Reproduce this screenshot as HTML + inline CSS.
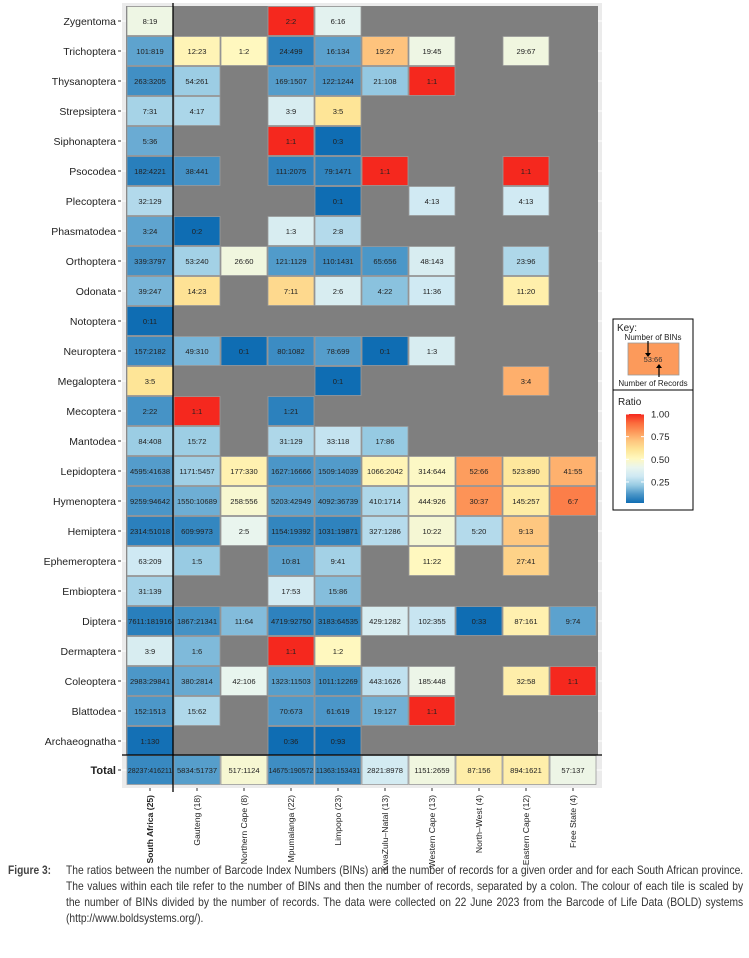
<!DOCTYPE html>
<html><head><meta charset="utf-8"><style>
body{margin:0;background:#fff;width:749px;height:958px;overflow:hidden;font-family:"Liberation Sans",sans-serif}
#cap{position:absolute;left:8px;top:862px;width:737px;font-size:12px;line-height:16px;color:#333}
#cap b{position:absolute;left:0;top:0;font-weight:bold;color:#444;transform:scaleX(0.85);transform-origin:0 0;white-space:nowrap}
#cap .ln{margin-left:58px;width:792px;transform:scaleX(0.855);transform-origin:0 0;white-space:nowrap;text-align:justify;text-align-last:justify;height:16px}
#cap .ln.last{text-align-last:left}
</style></head><body>
<svg id="chart" width="749" height="958" style="position:absolute;left:0;top:0" font-family="Liberation Sans, sans-serif"></svg>
<div id="cap"><b>Figure 3:</b>
<div class="ln">The ratios between the number of Barcode Index Numbers (BINs) and the number of records for a given order and for each South African province.</div>
<div class="ln">The values within each tile refer to the number of BINs and then the number of records, separated by a colon. The colour of each tile is scaled by</div>
<div class="ln">the number of BINs divided by the number of records. The data were collected on 22 June 2023 from the Barcode of Life Data (BOLD) systems</div>
<div class="ln last">(http://www.boldsystems.org/).</div></div>
<script>
const regions=["South Africa (25)","Gauteng (18)","Northern Cape (8)","Mpumalanga (22)","Limpopo (23)","KwaZulu\u2013Natal (13)","Western Cape (13)","North\u2013West (4)","Eastern Cape (12)","Free State (4)"];
const orders=["Zygentoma","Trichoptera","Thysanoptera","Strepsiptera","Siphonaptera","Psocodea","Plecoptera","Phasmatodea","Orthoptera","Odonata","Notoptera","Neuroptera","Megaloptera","Mecoptera","Mantodea","Lepidoptera","Hymenoptera","Hemiptera","Ephemeroptera","Embioptera","Diptera","Dermaptera","Coleoptera","Blattodea","Archaeognatha","Total"];
const cells=[
["8:19",null,null,"2:2","6:16",null,null,null,null,null],
["101:819","12:23","1:2","24:499","16:134","19:27","19:45",null,"29:67",null],
["263:3205","54:261",null,"169:1507","122:1244","21:108","1:1",null,null,null],
["7:31","4:17",null,"3:9","3:5",null,null,null,null,null],
["5:36",null,null,"1:1","0:3",null,null,null,null,null],
["182:4221","38:441",null,"111:2075","79:1471","1:1",null,null,"1:1",null],
["32:129",null,null,null,"0:1",null,"4:13",null,"4:13",null],
["3:24","0:2",null,"1:3","2:8",null,null,null,null,null],
["339:3797","53:240","26:60","121:1129","110:1431","65:656","48:143",null,"23:96",null],
["39:247","14:23",null,"7:11","2:6","4:22","11:36",null,"11:20",null],
["0:11",null,null,null,null,null,null,null,null,null],
["157:2182","49:310","0:1","80:1082","78:699","0:1","1:3",null,null,null],
["3:5",null,null,null,"0:1",null,null,null,"3:4",null],
["2:22","1:1",null,"1:21",null,null,null,null,null,null],
["84:408","15:72",null,"31:129","33:118","17:86",null,null,null,null],
["4595:41638","1171:5457","177:330","1627:16666","1509:14039","1066:2042","314:644","52:66","523:890","41:55"],
["9259:94642","1550:10689","258:556","5203:42949","4092:36739","410:1714","444:926","30:37","145:257","6:7"],
["2314:51018","609:9973","2:5","1154:19392","1031:19871","327:1286","10:22","5:20","9:13",null],
["63:209","1:5",null,"10:81","9:41",null,"11:22",null,"27:41",null],
["31:139",null,null,"17:53","15:86",null,null,null,null,null],
["7611:181916","1867:21341","11:64","4719:92750","3183:64535","429:1282","102:355","0:33","87:161","9:74"],
["3:9","1:6",null,"1:1","1:2",null,null,null,null,null],
["2983:29841","380:2814","42:106","1323:11503","1011:12269","443:1626","185:448",null,"32:58","1:1"],
["152:1513","15:62",null,"70:673","61:619","19:127","1:1",null,null,null],
["1:130",null,null,"0:36","0:93",null,null,null,null,null],
["28237:416211","5834:51737","517:1124","14675:190572","11363:153431","2821:8978","1151:2659","87:156","894:1621","57:137"]];
const legendTicks=[0.25,0.5,0.75,1.00];
const stops=[[0,"#0f6db3"],[0.1,"#4c97c8"],[0.2,"#98cbe3"],[0.3,"#cfe9f3"],[0.4,"#e9f5ee"],[0.5,"#fff8bf"],[0.6,"#fee597"],[0.7,"#fec57e"],[0.8,"#fd985a"],[0.9,"#fb6b3c"],[1,"#f5281e"]];
function hx(c){return [1,3,5].map(i=>parseInt(c.substr(i,2),16));}
function color(r){r=Math.max(0,Math.min(1,r));for(let i=1;i<stops.length;i++){if(r<=stops[i][0]){const a=stops[i-1],b=stops[i],t=(r-a[0])/(b[0]-a[0]);const ca=hx(a[1]),cb=hx(b[1]);return "rgb("+ca.map((v,k)=>Math.round(v+(cb[k]-v)*t)).join(",")+")";}}return stops[stops.length-1][1];}
const xC=j=>150+47*j, yC=i=>i<25?21+30*i:770;
const svg=document.getElementById('chart'),NS="http://www.w3.org/2000/svg";
function el(t,a,p,txt){const e=document.createElementNS(NS,t);for(const k in a)e.setAttribute(k,a[k]);if(txt!=null)e.textContent=txt;(p||svg).appendChild(e);return e;}
let e;
e=el('rect',{x:122,y:3,width:480,height:785,fill:'#ebebeb'});


for(let i=0;i<26;i++){el('line',{x1:122,x2:602,y1:yC(i),y2:yC(i),stroke:'#fff','stroke-width':1});}
e=el('rect',{x:126,y:6,width:472,height:749,fill:'#7f7f7f'});


orders.forEach((o,i)=>{
  e=el('text',{x:116,y:yC(i)+4,'text-anchor':'end','font-size':i==25?11:10.5,'font-weight':i==25?'bold':'normal',fill:'#222'},null,o);
  
  
  el('line',{x1:118,x2:121,y1:yC(i),y2:yC(i),stroke:'#333'});
  cells[i].forEach((v,j)=>{
    if(!v)return;const p=v.split(':').map(Number);const r=p[1]?p[0]/p[1]:0;
    const g=el('g',{});
    
    
    el('rect',{x:xC(j)-23,y:yC(i)-14.5,width:46,height:29,fill:color(r),stroke:'#9a9a9a','stroke-width':0.8},g);
    el('text',{x:xC(j),y:yC(i)+3,'text-anchor':'middle','font-size':v.length>11?7:7.6,fill:'#222'},g,v);
  });
});
regions.forEach((r,j)=>{
  el('line',{x1:xC(j),x2:xC(j),y1:788,y2:791,stroke:'#333'});
  e=el('text',{transform:`translate(${xC(j)+3},795) rotate(-90)`,'text-anchor':'end','font-size':8.6,'font-weight':j==0?'bold':'normal',fill:'#222'},null,r);
  
  
});
el('line',{x1:173,x2:173,y1:3,y2:792,stroke:'#000','stroke-width':1.3});
el('line',{x1:122,x2:602,y1:755,y2:755,stroke:'#000','stroke-width':1.3});
const lg=el('g',{});


el('rect',{x:613,y:319,width:80,height:191,fill:'#fff',stroke:'#000','stroke-width':1},lg);
el('line',{x1:613,x2:693,y1:390,y2:390,stroke:'#000'},lg);
el('text',{x:617,y:331,'font-size':10,fill:'#222'},lg,'Key:');
el('text',{x:653,y:340,'text-anchor':'middle','font-size':8,fill:'#222'},lg,'Number of BINs');
el('rect',{x:628,y:343,width:51,height:32,fill:'#fc9a5b',stroke:'#999','stroke-width':0.8},lg);
el('text',{x:653,y:362,'text-anchor':'middle','font-size':7.5,fill:'#333'},lg,'53:66');
el('line',{x1:648,x2:648,y1:341,y2:356,stroke:'#000','stroke-width':1.2},lg);
el('path',{d:'M645,353 L648,357 L651,353Z',fill:'#000'},lg);
el('line',{x1:659,x2:659,y1:377,y2:365,stroke:'#000','stroke-width':1.2},lg);
el('path',{d:'M656,368 L659,364 L662,368Z',fill:'#000'},lg);
el('text',{x:653,y:386,'text-anchor':'middle','font-size':8,fill:'#222'},lg,'Number of Records');
el('text',{x:618,y:405,'font-size':10,fill:'#222'},lg,'Ratio');
const defs=el('defs',{},lg);const gr=el('linearGradient',{id:'cb',x1:0,y1:1,x2:0,y2:0},defs);
stops.forEach(s=>el('stop',{offset:s[0],'stop-color':s[1]},gr));
const cbTop=414,cbBot=503,cbY=v=>cbBot-(v-0.04)/(1-0.04)*(cbBot-cbTop-2)-2;
el('rect',{x:626,y:cbTop,width:18,height:cbBot-cbTop,fill:'url(#cb)'},lg);
legendTicks.forEach(t=>{
  el('line',{x1:626,x2:629,y1:cbY(t),y2:cbY(t),stroke:'#fff'},lg);
  el('line',{x1:641,x2:644,y1:cbY(t),y2:cbY(t),stroke:'#fff'},lg);
  el('text',{x:651,y:cbY(t)+3.5,'font-size':9.5,fill:'#222'},lg,t.toFixed(2));
});
</script>
</body></html>
